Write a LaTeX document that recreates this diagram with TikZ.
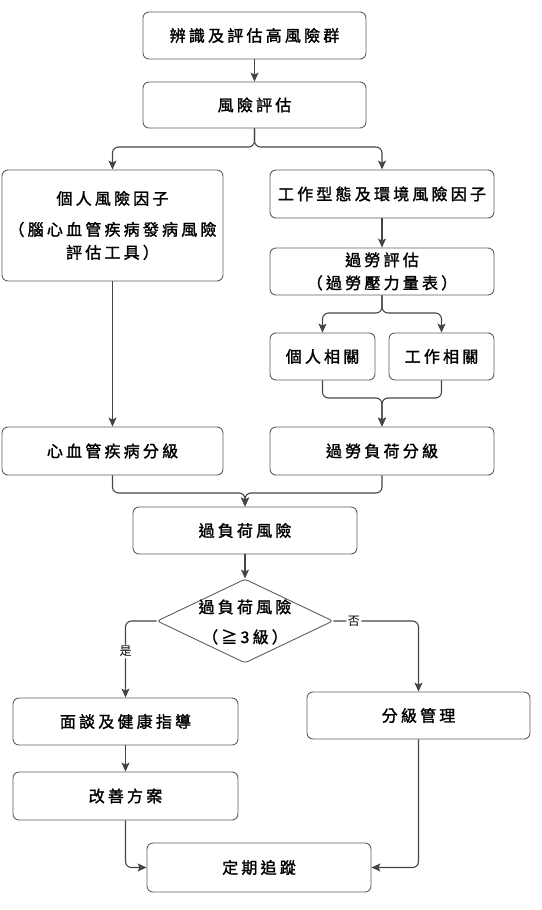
\documentclass[tikz,border=0pt]{standalone}
\usepackage{fontspec}
\newfontfamily\cjk[LetterSpace=20,FakeBold=1.6]{Noto Sans CJK TC}
\newfontfamily\cjklbl{Noto Sans CJK TC}
\usetikzlibrary{arrows.meta,shapes.geometric,calc}
\definecolor{boxc}{HTML}{5E5E5E}
\definecolor{linec}{HTML}{454545}
\begin{document}
\begin{tikzpicture}[x=1pt,y=-1pt,
  box/.style={draw=boxc, line width=0.9pt, rounded corners=6pt, fill=white,
    align=center, inner sep=0pt, text=black,
    font=\cjk\fontsize{16}{23}\selectfont},
  conn/.style={draw=linec, line width=1.1pt, rounded corners=6pt},
  arr/.style={conn, -{Stealth[length=9pt,width=8pt,inset=2pt]}},
  lbl/.style={fill=white, inner sep=1.5pt, text=black,
    font=\cjklbl\fontsize{12}{12}\selectfont}]
\useasboundingbox (0,0) rectangle (541,910);

% boxes
\node[box, minimum width=223, minimum height=47] (n1) at (254.5,35.5) {辨識及評估高風險群};
\node[box, minimum width=223, minimum height=46] (n2) at (254.5,105) {風險評估};
\node[box, minimum width=221, minimum height=111] (n3) at (112.5,225.5)
  {個人風險因子\\[8pt]（腦心血管疾病發病風險\\評估工具）};
\node[box, minimum width=224, minimum height=48] (n4) at (382,194) {工作型態及環境風險因子};
\node[box, minimum width=224, minimum height=47] (n5) at (382,271.5) {過勞評估\\（過勞壓力量表）};
\node[box, minimum width=105, minimum height=47] (n6) at (322.5,356.5) {個人相關};
\node[box, minimum width=105, minimum height=47] (n7) at (441.5,356.5) {工作相關};
\node[box, minimum width=221, minimum height=48] (n8) at (112.5,451) {心血管疾病分級};
\node[box, minimum width=224, minimum height=48] (n9) at (382,451) {過勞負荷分級};
\node[box, minimum width=224, minimum height=47] (n10) at (245,530.5) {過負荷風險};
\node[diamond, draw=boxc, line width=0.9pt, fill=white, rounded corners=3pt,
  minimum width=176, minimum height=84, inner sep=0pt] (d) at (245,621) {};
\node[align=center, inner sep=0pt, font=\cjk\fontsize{16}{23}\selectfont] (dt) at (245,622)
  {過負荷風險\\[7pt]（≧3級）};
\node[box, minimum width=225, minimum height=47] (n11) at (125.5,721.5) {面談及健康指導};
\node[box, minimum width=223, minimum height=47] (n12) at (418.5,715.5) {分級管理};
\node[box, minimum width=225, minimum height=48] (n13) at (125.5,796) {改善方案};
\node[box, minimum width=224, minimum height=49] (n14) at (259,867.5) {定期追蹤};

% junctions
\coordinate (j1) at (254.5,147);
\coordinate (j2) at (382,313);
\coordinate (j3) at (382,398);
\coordinate (j4) at (245,493);

% connectors
\draw[arr] (n1.south) -- (n2.north);
\draw[arr] (n2.south) -- (j1) -| (n3.north);
\draw[arr] (n2.south) -- (j1) -| (n4.north);
\draw[arr] (n4.south) -- (n5.north);
\draw[arr] (n5.south) -- (j2) -| (n6.north);
\draw[arr] (n5.south) -- (j2) -| (n7.north);
\draw[arr] (n6.south) |- (j3) -- (n9.north);
\draw[arr] (n7.south) |- (j3) -- (n9.north);
\draw[arr] (n3.south) -- (n8.north);
\draw[arr] (n8.south) |- (j4) -- (n10.north);
\draw[arr] (n9.south) |- (j4) -- (n10.north);
\draw[arr] (n10.south) -- (d.north);
\draw[arr] (d.west) -| node[lbl, pos=0.7] (ly) {是} (n11.north);
\draw[arr] (d.east) -| node[lbl, pos=0.12] (ln) {否} (n12.north);
\draw[arr] (n11.south) -- (n13.north);
\draw[arr] (n13.south) |- (n14.west);
\draw[arr] (n12.south) |- (n14.east);
\end{tikzpicture}
\end{document}
